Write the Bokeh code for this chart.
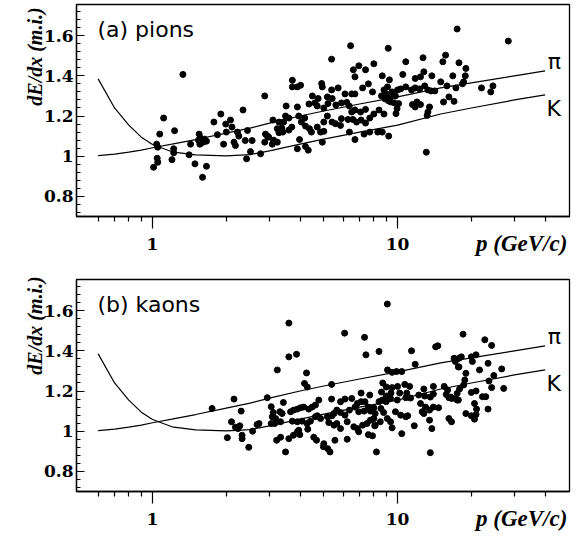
import numpy as np
from bokeh.plotting import figure
from bokeh.models import Range1d, FixedTicker, Label, CustomJSTickFormatter, LinearAxis
from bokeh.layouts import column
from bokeh.embed import file_html
from bokeh.resources import INLINE

# Theoretical dE/dx curves
p_curve = [0.6, 0.7, 0.8, 0.9, 1.0, 1.2, 1.5, 2.0, 2.5, 3.0, 4.0, 5.0, 7.0, 10.0, 15.0, 20.0, 30.0, 40.0]
pion_curve = [1.003, 1.01, 1.02, 1.03, 1.042, 1.06, 1.083, 1.115, 1.14, 1.165, 1.20, 1.225, 1.26, 1.295, 1.34, 1.365, 1.40, 1.425]
kaon_curve = [1.385, 1.24, 1.155, 1.095, 1.058, 1.022, 1.007, 1.002, 1.008, 1.027, 1.06, 1.085, 1.12, 1.155, 1.21, 1.24, 1.28, 1.305]

# (a) pions sample
pion_p = [1.33, 2.87, 1.11, 1.90, 2.34, 1.78, 1.99, 2.08, 2.11, 1.07, 1.23, 1.55, 1.57, 1.54, 1.63, 1.66, 1.61, 1.56,
          1.84, 2.00, 2.22, 2.25, 2.44, 1.95, 2.15, 2.18, 2.39, 2.55, 2.87, 2.94, 1.43, 1.04, 1.05, 1.22, 1.22, 1.045,
          1.05, 1.01, 1.20, 1.41, 1.49, 1.66, 1.60, 2.42, 2.51, 2.76,
          6.43, 9.16, 5.38, 6.6, 6.95, 7.4, 8.0, 6.7, 8.66, 9.26, 3.72, 3.9, 4.02, 3.72, 4.9, 4.93, 5.38, 5.72,
          6.1, 6.5, 6.7, 7.2, 7.6, 7.9, 8.8, 9.0, 9.3, 8.9, 9.4, 9.7, 9.8, 10.0, 9.1, 9.5, 8.6, 9.2,
          4.49, 4.74, 5.17, 5.41, 4.35, 4.6, 4.7, 5.0, 5.2, 5.6, 5.9, 6.2, 6.35, 3.51, 3.9, 3.49, 3.6, 3.1,
          3.28, 3.43, 3.37, 3.4, 3.6, 3.7, 3.95, 4.05, 4.18, 4.21, 4.37, 4.45, 4.85, 5.0, 4.7, 5.0, 5.17, 5.4,
          5.58, 5.85, 5.9, 6.28, 6.57, 6.5, 6.7, 7.06, 7.4, 6.8, 7.1, 7.4, 7.7, 8.0, 8.4, 8.8, 6.36, 6.7,
          7.3, 7.7, 8.3, 8.66, 9.2, 2.89, 2.98, 3.12, 3.23, 3.08, 3.28, 3.23, 3.98, 3.9, 4.21, 4.32, 4.93,
          17.5, 28.3, 10.8, 12.7, 15.7, 15.3, 17.8, 10.5, 12.8, 12.4, 11.8, 13.8, 16.8, 19.0, 18.9, 18.6, 18.4,
          15.0, 15.9, 17.3, 10.3, 10.8, 11.4, 11.8, 12.3, 12.9, 13.3, 13.7, 14.2, 22.0, 24.0, 24.5, 10.1, 9.95,
          11.5, 12.0, 12.4, 11.8, 15.4, 16.2, 17.0, 13.5, 13.3, 13.2, 13.1, 9.85]
pion_v = [1.407, 1.30, 1.19, 1.21, 1.23, 1.17, 1.16, 1.18, 1.145, 1.11, 1.127, 1.11, 1.09, 1.08, 1.085, 1.075, 1.07, 1.06,
          1.107, 1.12, 1.12, 1.10, 1.128, 1.06, 1.07, 1.053, 1.078, 1.078, 1.07, 1.10, 1.06, 1.06, 1.045, 1.037, 1.017, 0.99,
          0.97, 0.945, 0.983, 1.007, 0.962, 0.95, 0.895, 0.987, 1.023, 1.012,
          1.55, 1.537, 1.483, 1.43, 1.45, 1.43, 1.46, 1.395, 1.40, 1.38, 1.378, 1.345, 1.353, 1.345, 1.362, 1.345, 1.33, 1.34,
          1.31, 1.31, 1.31, 1.34, 1.36, 1.32, 1.33, 1.31, 1.29, 1.285, 1.27, 1.265, 1.30, 1.33, 1.345, 1.32, 1.30, 1.275,
          1.30, 1.287, 1.295, 1.287, 1.26, 1.265, 1.25, 1.24, 1.262, 1.255, 1.265, 1.268, 1.25, 1.25, 1.245, 1.20, 1.19, 1.18,
          1.17, 1.17, 1.14, 1.12, 1.13, 1.145, 1.20, 1.17, 1.19, 1.15, 1.137, 1.12, 1.12, 1.124, 1.145, 1.17, 1.20, 1.17,
          1.162, 1.153, 1.187, 1.183, 1.183, 1.22, 1.23, 1.22, 1.233, 1.17, 1.18, 1.165, 1.19, 1.21, 1.23, 1.21, 1.12, 1.083,
          1.11, 1.12, 1.12, 1.12, 1.10, 1.11, 1.095, 1.08, 1.07, 1.06, 1.117, 1.137, 1.083, 1.037, 1.048, 1.03, 1.07,
          1.633, 1.573, 1.47, 1.49, 1.503, 1.47, 1.465, 1.407, 1.42, 1.395, 1.387, 1.40, 1.40, 1.437, 1.40, 1.37, 1.36,
          1.37, 1.35, 1.34, 1.335, 1.345, 1.33, 1.34, 1.335, 1.35, 1.33, 1.325, 1.325, 1.34, 1.32, 1.35, 1.262, 1.237,
          1.257, 1.27, 1.257, 1.245, 1.27, 1.295, 1.273, 1.245, 1.22, 1.203, 1.02, 1.212]

# (b) kaons sample
kaon_p = [1.75, 2.02, 2.15, 2.10, 2.18, 2.23, 2.27, 2.32, 2.32, 2.30, 2.47, 2.56, 2.67, 2.72, 2.94, 3.23,
          3.05, 3.11, 3.08, 3.18, 3.31, 3.38, 3.33, 3.15, 3.05, 3.21, 3.33, 3.49, 3.60, 3.87, 3.60, 3.60, 3.76, 3.90,
          4.25, 4.17, 4.28, 3.42, 3.66, 3.77, 3.90, 4.02, 4.14, 4.34, 4.48, 4.62, 4.77,
          3.72, 3.90, 4.08, 4.27, 4.41, 4.62, 4.70, 4.85, 5.17, 3.95, 4.30, 4.55, 4.67, 5.00, 4.98, 5.19, 3.99,
          9.08, 6.08, 7.33, 7.43, 8.4, 11.4, 14.3, 14.6, 17.0, 17.8, 11.8, 9.1, 9.5, 9.9, 10.4, 5.38,
          8.7, 9.0, 9.5, 10.0, 10.7, 11.2, 12.8, 14.0, 14.0, 15.5, 16.0, 16.5,
          7.1, 7.7, 8.6, 9.0, 9.4, 10.2, 10.9, 11.3, 12.2, 12.9, 13.6, 15.8, 16.2, 16.6, 17.5,
          5.38, 5.85, 6.1, 6.5, 6.85, 7.1, 7.36, 7.6, 8.0, 8.4, 8.66, 8.98, 9.36, 9.97, 10.8,
          5.5, 5.4, 5.65, 5.85, 6.1, 6.36, 6.7, 6.94, 7.3, 7.75, 8.1, 8.55, 8.77,
          9.8, 10.3, 10.8, 11.0, 12.4, 13.0, 13.5, 14.0, 14.7, 12.6, 12.8, 16.2, 16.6,
          5.24, 5.5, 5.65, 5.85, 6.23, 6.63, 6.85, 7.2, 7.5, 7.75, 8.0, 8.1, 8.5, 9.08, 9.36, 9.5, 10.4, 11.7, 13.5, 13.8,
          5.55, 6.23, 6.94, 7.6, 7.9, 8.07, 5.3, 8.2, 13.6,
          18.5, 22.7, 24.2, 18.2, 17.8, 17.2, 20.0, 20.9, 20.2, 21.6, 23.4, 17.7, 26.6, 24.7, 23.6, 24.2, 27.1,
          19.0, 18.8, 18.6, 17.9, 17.5, 17.7, 17.2, 20.0, 20.9, 20.6, 22.2, 22.9, 23.4, 21.0, 20.9, 19.0, 20.0, 20.6]
kaon_v = [1.113, 0.968, 1.16, 1.047, 1.02, 1.013, 1.027, 0.98, 0.963, 1.10, 0.92, 1.00, 1.033, 1.038, 1.167, 1.305,
          1.122, 1.093, 1.072, 1.063, 1.097, 1.088, 1.047, 1.038, 1.038, 0.955, 0.97, 0.897, 1.37, 1.383, 1.538, 0.963, 0.98, 0.997,
          1.29, 1.238, 1.22, 1.143, 1.097, 1.105, 1.11, 1.117, 1.12, 1.11, 1.12, 1.13, 1.155,
          1.05, 1.047, 1.05, 1.038, 1.05, 1.072, 1.077, 1.063, 1.072, 1.005, 1.01, 0.97, 0.955, 0.938, 0.923, 0.913, 0.983,
          1.633, 1.488, 1.467, 1.38, 1.397, 1.40, 1.42, 1.425, 1.363, 1.32, 1.333, 1.305, 1.293, 1.297, 1.297, 1.233,
          1.24, 1.22, 1.217, 1.223, 1.233, 1.223, 1.21, 1.223, 1.185, 1.223, 1.205, 1.17,
          1.19, 1.18, 1.195, 1.175, 1.19, 1.19, 1.19, 1.165, 1.18, 1.175, 1.17, 1.183, 1.167, 1.163, 1.155,
          1.16, 1.147, 1.16, 1.163, 1.138, 1.147, 1.147, 1.12, 1.117, 1.147, 1.155, 1.147, 1.163, 1.155, 1.167,
          1.088, 1.077, 1.105, 1.093, 1.08, 1.105, 1.12, 1.097, 1.10, 1.10, 1.088, 1.113, 1.093,
          1.097, 1.08, 1.072, 1.077, 1.138, 1.12, 1.105, 1.12, 1.117, 1.097, 1.088, 1.063, 1.047,
          1.043, 1.03, 1.038, 1.013, 1.047, 1.022, 1.013, 1.03, 1.038, 1.055, 1.063, 1.03, 1.047, 1.063, 1.047, 1.017, 0.988, 1.027, 1.055, 1.013,
          0.955, 0.96, 0.997, 0.983, 0.977, 1.027, 0.897, 0.897, 0.893,
          1.483, 1.455, 1.427, 1.37, 1.363, 1.347, 1.37, 1.38, 1.347, 1.305, 1.338, 1.32, 1.31, 1.277, 1.25, 1.217, 1.213,
          1.288, 1.255, 1.23, 1.21, 1.188, 1.155, 1.163, 1.193, 1.20, 1.138, 1.172, 1.172, 1.11, 1.11, 1.083, 1.088, 1.077, 1.06]

x_major = [1, 10]
x_minor = [0.6, 0.7, 0.8, 0.9, 2, 3, 4, 5, 6, 7, 8, 9, 20, 30, 40]
y_major = [0.8, 1.0, 1.2, 1.4, 1.6]
y_minor = [round(0.72 + 0.04 * i, 2) for i in range(26)]

y_title = "dE/dx (m.i.)"
x_title = "p (GeV/c)"

SERIF = "DejaVu Serif"
LABEL_SERIF = "Liberation Serif"
SANS = "DejaVu Sans"


def title_axis(pos, text, size, standoff, orientation):
    # an axis without line or tick marks whose single tick label is the axis title
    ax = LinearAxis(ticker=FixedTicker(ticks=[pos]),
                    formatter=CustomJSTickFormatter(args=dict(t=text), code="return t;"))
    ax.axis_line_color = None
    ax.major_tick_line_color = None
    ax.minor_tick_line_color = None
    ax.major_tick_in = 0
    ax.major_tick_out = 0
    ax.minor_tick_in = 0
    ax.minor_tick_out = 0
    ax.major_label_standoff = standoff
    ax.major_label_orientation = orientation
    ax.major_label_text_font = LABEL_SERIF
    ax.major_label_text_font_style = "bold italic"
    ax.major_label_text_font_size = size
    ax.major_label_text_color = "black"
    return ax


def make_panel(px, pv, title, height, border_top, border_bottom, ytitle_center):
    p = figure(width=572, height=height, x_axis_type="log",
               x_range=Range1d(0.4895, 50.3), y_range=Range1d(0.7, 1.755),
               output_backend="svg", toolbar_location=None,
               min_border_left=76, min_border_right=3,
               min_border_top=border_top, min_border_bottom=border_bottom)
    p.grid.visible = False
    p.outline_line_color = "black"
    p.outline_line_width = 1.3
    p.background_fill_color = "white"
    p.border_fill_color = "white"

    p.line(p_curve, pion_curve, line_color="black", line_width=1.2)
    p.line(p_curve, kaon_curve, line_color="black", line_width=1.2)
    p.scatter(px, pv, size=6, fill_color="black", line_color="black")

    xa = p.xaxis[0]
    xa.ticker = FixedTicker(ticks=x_major, minor_ticks=x_minor)
    xa.formatter = CustomJSTickFormatter(code="return tick.toString();")
    xa.major_tick_in = 0
    xa.major_tick_out = 12
    xa.minor_tick_in = 0
    xa.minor_tick_out = 5
    xa.major_label_standoff = 9
    xa.axis_line_width = 1.3
    xa.major_tick_line_width = 1.2
    xa.minor_tick_line_width = 1.2
    xa.major_label_text_font = SERIF
    xa.major_label_text_font_style = "bold"
    xa.major_label_text_font_size = "17px"
    xa.major_label_text_color = "black"

    ya = p.yaxis[0]
    ya.ticker = FixedTicker(ticks=y_major, minor_ticks=y_minor)
    ya.formatter = CustomJSTickFormatter(code="return tick.toString();")
    ya.major_tick_in = 8
    ya.major_tick_out = 0
    ya.minor_tick_in = 4
    ya.minor_tick_out = 0
    ya.major_label_standoff = 3
    ya.axis_line_width = 1.3
    ya.major_tick_line_width = 1.2
    ya.minor_tick_line_width = 1.2
    ya.major_label_text_font = SERIF
    ya.major_label_text_font_style = "bold"
    ya.major_label_text_font_size = "17px"
    ya.major_label_text_color = "black"

    # axis titles, placed by helper axes
    p.add_layout(title_axis(32.1, x_title, "23px", -22, "horizontal"), "below")
    p.add_layout(title_axis(ytitle_center, y_title, "20px", -6, "vertical"), "left")

    p.add_layout(Label(x=0.596, y=1.631, text=title,
                       text_align="left", text_baseline="middle",
                       text_font=SANS, text_font_size="22px", text_color="black"))
    p.add_layout(Label(x=41, y=1.471, text="π",
                       text_align="left", text_baseline="middle",
                       text_font=SANS, text_font_size="22px", text_color="black"))
    p.add_layout(Label(x=40.5, y=1.238, text="K",
                       text_align="left", text_baseline="middle",
                       text_font=SANS, text_font_size="22px", text_color="black"))
    return p


p1 = make_panel(pion_p, pion_v, "(a) pions", 275, 4, 59, 1.496)
p2 = make_panel(kaon_p, kaon_v, "(b) kaons", 266, 4, 50, 1.526)

layout = column(p1, p2, spacing=0)
open("out.html", "w").write(file_html(layout, INLINE))
